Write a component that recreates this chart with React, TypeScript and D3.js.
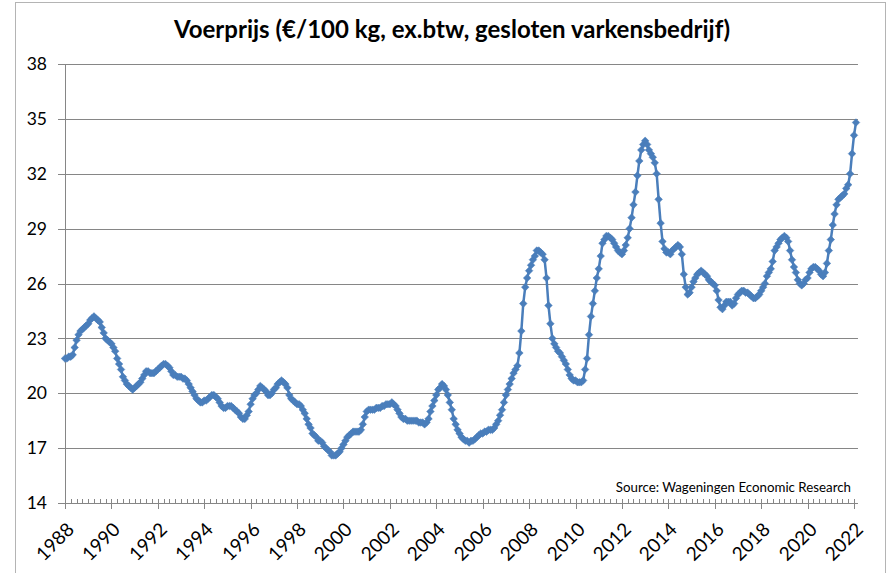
import React from "react";
import * as d3 from "d3";

// monthly feed price, €/100 kg, Jan 1988 .. Feb 2022
const p1988 = [21.9, 21.9, 22.0, 22.0, 22.1, 22.5, 22.9, 23.2, 23.4, 23.5, 23.6, 23.7];
const p1989 = [23.8, 24.0, 24.1, 24.2, 24.1, 24.0, 23.9, 23.6, 23.3, 23.0, 22.9, 22.8];
const p1990 = [22.7, 22.5, 22.3, 21.9, 21.6, 21.3, 20.9, 20.7, 20.5, 20.4, 20.3, 20.2];
const p1991 = [20.3, 20.4, 20.5, 20.6, 20.8, 21.0, 21.2, 21.2, 21.1, 21.1, 21.1, 21.2];
const p1992 = [21.3, 21.4, 21.5, 21.6, 21.6, 21.5, 21.4, 21.2, 21.0, 21.0, 20.9, 20.9];
const p1993 = [20.9, 20.8, 20.8, 20.7, 20.5, 20.3, 20.1, 19.9, 19.7, 19.6, 19.5, 19.5];
const p1994 = [19.6, 19.6, 19.7, 19.8, 19.9, 19.9, 19.8, 19.7, 19.5, 19.3, 19.2, 19.2];
const p1995 = [19.3, 19.3, 19.3, 19.2, 19.1, 19.0, 18.9, 18.7, 18.6, 18.6, 18.8, 19.0];
const p1996 = [19.4, 19.7, 19.9, 20.0, 20.2, 20.4, 20.3, 20.2, 20.1, 19.9, 19.9, 20.0];
const p1997 = [20.2, 20.3, 20.5, 20.6, 20.7, 20.6, 20.5, 20.3, 19.9, 19.7, 19.6, 19.5];
const p1998 = [19.4, 19.4, 19.3, 19.1, 18.9, 18.6, 18.3, 18.1, 17.8, 17.7, 17.6, 17.4];
const p1999 = [17.4, 17.3, 17.1, 17.0, 16.9, 16.8, 16.6, 16.6, 16.6, 16.7, 16.8, 17.0];
const p2000 = [17.2, 17.4, 17.6, 17.7, 17.8, 17.9, 17.9, 17.9, 17.9, 18.0, 18.3, 18.7];
const p2001 = [19.0, 19.1, 19.1, 19.1, 19.1, 19.2, 19.2, 19.2, 19.3, 19.3, 19.4, 19.4];
const p2002 = [19.4, 19.5, 19.4, 19.3, 19.1, 18.9, 18.7, 18.6, 18.6, 18.5, 18.5, 18.5];
const p2003 = [18.5, 18.5, 18.5, 18.4, 18.4, 18.4, 18.3, 18.4, 18.6, 19.0, 19.3, 19.6];
const p2004 = [19.9, 20.2, 20.3, 20.5, 20.4, 20.2, 19.9, 19.5, 19.1, 18.6, 18.3, 18.0];
const p2005 = [17.8, 17.6, 17.5, 17.4, 17.4, 17.3, 17.4, 17.4, 17.5, 17.6, 17.7, 17.8];
const p2006 = [17.8, 17.9, 17.9, 18.0, 18.0, 18.0, 18.1, 18.3, 18.5, 18.8, 19.1, 19.5];
const p2007 = [19.9, 20.2, 20.5, 20.8, 21.1, 21.3, 21.5, 22.2, 23.4, 24.9, 25.8, 26.3];
const p2008 = [26.7, 27.0, 27.3, 27.5, 27.8, 27.8, 27.7, 27.6, 27.3, 26.3, 24.8, 23.8];
const p2009 = [23.0, 22.7, 22.5, 22.3, 22.2, 22.0, 21.8, 21.6, 21.3, 21.0, 20.8, 20.7];
const p2010 = [20.7, 20.6, 20.6, 20.6, 20.7, 21.3, 21.9, 23.2, 24.2, 24.9, 25.6, 26.3];
const p2011 = [26.8, 27.5, 28.2, 28.4, 28.6, 28.6, 28.5, 28.4, 28.2, 28.0, 27.8, 27.7];
const p2012 = [27.6, 27.8, 28.1, 28.5, 29.0, 29.6, 30.3, 31.0, 31.9, 32.7, 33.3, 33.6];
const p2013 = [33.8, 33.6, 33.3, 33.1, 32.9, 32.6, 32.0, 30.6, 29.3, 28.3, 27.9, 27.7];
const p2014 = [27.7, 27.6, 27.8, 27.9, 28.0, 28.1, 28.0, 27.6, 26.5, 25.8, 25.4, 25.5];
const p2015 = [25.8, 26.1, 26.3, 26.5, 26.6, 26.7, 26.6, 26.5, 26.4, 26.2, 26.1, 26.0];
const p2016 = [25.9, 25.6, 25.1, 24.7, 24.6, 24.8, 25.0, 25.0, 25.0, 24.8, 24.9, 25.2];
const p2017 = [25.4, 25.5, 25.6, 25.6, 25.5, 25.5, 25.4, 25.3, 25.2, 25.2, 25.3, 25.4];
const p2018 = [25.6, 25.8, 26.0, 26.4, 26.6, 26.8, 27.2, 27.8, 28.0, 28.2, 28.4, 28.5];
const p2019 = [28.6, 28.5, 28.3, 27.8, 27.3, 26.9, 26.6, 26.2, 26.0, 25.9, 26.0, 26.2];
const p2020 = [26.3, 26.6, 26.8, 26.9, 26.9, 26.8, 26.7, 26.5, 26.4, 26.6, 27.1, 27.8];
const p2021 = [28.4, 29.2, 29.8, 30.3, 30.6, 30.7, 30.8, 30.9, 31.2, 31.4, 32.0, 33.1];
const p2022 = [34.1, 34.8];

const yearly = [
  p1988, p1989, p1990, p1991, p1992, p1993, p1994, p1995, p1996, p1997, p1998, p1999,
  p2000, p2001, p2002, p2003, p2004, p2005, p2006, p2007, p2008, p2009, p2010, p2011,
  p2012, p2013, p2014, p2015, p2016, p2017, p2018, p2019, p2020, p2021, p2022,
];
const firstYear = 1988;

const yTicks = [14, 17, 20, 23, 26, 29, 32, 35, 38];
const xLabelYears = [1988, 1990, 1992, 1994, 1996, 1998, 2000, 2002, 2004, 2006, 2008, 2010, 2012, 2014, 2016, 2018, 2020, 2022];

const title = "Voerprijs (€/100 kg, ex.btw, gesloten varkensbedrijf)";
const source = "Source: Wageningen Economic Research";

type Pt = { date: Date; value: number };

const data: Pt[] = [];
yearly.forEach((arr, i) => {
  arr.forEach((v, m) => data.push({ date: new Date(firstYear + i, m, 1), value: v }));
});

const W = 894, H = 573;
const margin = { top: 64, left: 65, bottom: 70, right: 38 };
const font = "Lato, 'Open Sans', sans-serif";
const blue = "#4a7ebb";
const grid = "#868686";

export default function App() {
  const x = d3.scaleTime()
    .domain([new Date(1988, 0, 1), new Date(2022, 0, 1)])
    .range([margin.left, W - margin.right - 2]);
  const y = d3.scaleLinear().domain([14, 38]).range([H - margin.bottom, margin.top]);

  const last = data[data.length - 1].date;
  const xEnd = x(last);

  const line = d3.line<Pt>()
    .x((d) => x(d.date))
    .y((d) => y(d.value));

  const minor = d3.timeMonth.every(3)!.range(new Date(1988, 0, 1), last);
  const diamond = "M0,-3.8L3.8,0L0,3.8L-3.8,0Z";

  return (
    <svg width={W} height={H} style={{ position: "absolute", left: 0, top: 0, background: "#fff" }}>
      <rect x={15.5} y={2.5} width={870} height={620} fill="#fff" stroke="#b4b4b4" />

      <text x={452} y={38} textAnchor="middle" fontFamily={font} fontWeight="bold" fontSize={24} fill="#000">
        {title}
      </text>

      {/* gridlines + y labels */}
      {yTicks.map((t) => (
        <g key={t}>
          <line x1={margin.left - 7} x2={xEnd + 2} y1={Math.round(y(t)) + 0.5} y2={Math.round(y(t)) + 0.5} stroke={grid} strokeWidth={1} />
          <text x={47} y={y(t)} dy="0.35em" textAnchor="end" fontFamily={font} fontSize={17.5} fill="#000">
            {t}
          </text>
        </g>
      ))}

      {/* y axis */}
      <line x1={margin.left + 0.5} x2={margin.left + 0.5} y1={y(38)} y2={y(14)} stroke={grid} />

      {/* x axis ticks */}
      {minor.map((d, i) => (
        <line key={i} x1={Math.round(x(d)) + 0.5} x2={Math.round(x(d)) + 0.5} y1={y(14) - 4} y2={y(14)} stroke={grid} />
      ))}
      {xLabelYears.map((yr) => {
        const px = Math.round(x(new Date(yr, 0, 1))) + 0.5;
        return (
          <g key={yr}>
            <line x1={px} x2={px} y1={y(14) - 4} y2={y(14) + 6} stroke={grid} />
            <text
              transform={`translate(${px + 5},${y(14) + 23}) rotate(-45)`}
              textAnchor="end"
              dy="0.35em"
              fontFamily={font}
              fontSize={19}
              fill="#000"
            >
              {yr}
            </text>
          </g>
        );
      })}

      <text x={851} y={492} textAnchor="end" fontFamily={font} fontSize={13.3} fill="#000">
        {source}
      </text>

      <path d={line(data) ?? ""} fill="none" stroke={blue} strokeWidth={2.5} strokeLinejoin="round" />
      {data.map((d, i) => (
        <path key={i} d={diamond} transform={`translate(${x(d.date)},${y(d.value)})`} fill={blue} stroke={blue} strokeWidth={0.5} />
      ))}
    </svg>
  );
}
